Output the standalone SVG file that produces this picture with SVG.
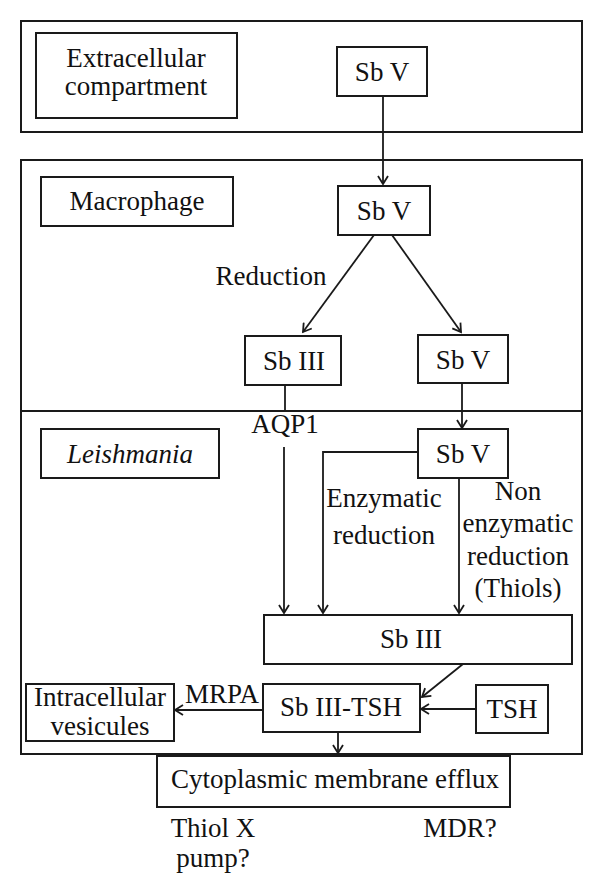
<svg xmlns="http://www.w3.org/2000/svg" width="600" height="893" viewBox="0 0 600 893">
<style>
  rect { fill: #fff; stroke: #1a1a1a; stroke-width: 2; }
  text { font-family: 'Liberation Serif', serif; font-size: 27px; fill: #111; text-anchor: middle; }
  .c { fill: none; stroke: #1a1a1a; stroke-width: 1.8; }
</style>
<defs>
  <marker id="arr" markerWidth="12" markerHeight="12" refX="10" refY="6" orient="auto" markerUnits="userSpaceOnUse">
    <path d="M2,1 L10,6 L2,11" fill="none" stroke="#1a1a1a" stroke-width="1.8"/>
  </marker>
</defs>
<g id="extracellular-region">
  <rect x="21" y="21" width="561" height="111"/>
</g>
<g id="macrophage-region">
  <rect x="21" y="160" width="561" height="251"/>
</g>
<g id="leishmania-region">
  <rect x="21" y="411" width="561" height="343"/>
</g>

<g id="extracellular-label">
  <rect x="36" y="33" width="201" height="85"/>
  <text x="136" y="67">Extracellular</text>
  <text x="136" y="95">compartment</text>
</g>
<g id="sbv-extra">
  <rect x="337" y="47" width="90" height="49"/>
  <text x="382" y="81">Sb V</text>
</g>
<g id="macrophage-label">
  <rect x="41" y="177" width="192" height="49"/>
  <text x="137" y="210">Macrophage</text>
</g>
<g id="sbv-macro">
  <rect x="338" y="186" width="92" height="49"/>
  <text x="384" y="220">Sb V</text>
</g>
<g id="sbiii-macro">
  <rect x="245" y="336" width="96" height="49"/>
  <text x="294" y="370">Sb III</text>
</g>
<g id="sbv-macro2">
  <rect x="418" y="335" width="90" height="48"/>
  <text x="463" y="369">Sb V</text>
</g>
<g id="leishmania-label">
  <rect x="41" y="429" width="178" height="49"/>
  <text x="130" y="463" font-style="italic">Leishmania</text>
</g>
<g id="sbv-leish">
  <rect x="418" y="429" width="90" height="49"/>
  <text x="463" y="463">Sb V</text>
</g>
<g id="sbiii-leish">
  <rect x="264" y="615" width="308" height="49"/>
  <text x="411" y="648">Sb III</text>
</g>
<g id="sbiii-tsh">
  <rect x="263" y="684" width="157" height="48"/>
  <text x="341" y="716">Sb III-TSH</text>
</g>
<g id="tsh">
  <rect x="476" y="685" width="72" height="48"/>
  <text x="512" y="718">TSH</text>
</g>
<g id="intracellular-vesicules">
  <rect x="26" y="684" width="148" height="57"/>
  <text x="100" y="706">Intracellular</text>
  <text x="100" y="735">vesicules</text>
</g>
<g id="efflux">
  <rect x="157" y="756" width="353" height="51"/>
  <text x="335" y="788">Cytoplasmic membrane efflux</text>
</g>

<g id="connectors">
  <line class="c" x1="383" y1="96" x2="383" y2="184" marker-end="url(#arr)"/>
  <line class="c" x1="374" y1="235" x2="303" y2="332" marker-end="url(#arr)"/>
  <line class="c" x1="392" y1="235" x2="461" y2="332" marker-end="url(#arr)"/>
  <line class="c" x1="285" y1="385" x2="285" y2="411"/>
  <line class="c" x1="462" y1="383" x2="462" y2="428" marker-end="url(#arr)"/>
  <line class="c" x1="284" y1="447" x2="284" y2="613" marker-end="url(#arr)"/>
  <polyline class="c" points="418,452 323,452 323,613" marker-end="url(#arr)"/>
  <line class="c" x1="459" y1="478" x2="459" y2="613" marker-end="url(#arr)"/>
  <line class="c" x1="463" y1="664" x2="422" y2="697" marker-end="url(#arr)"/>
  <line class="c" x1="476" y1="709" x2="421" y2="709" marker-end="url(#arr)"/>
  <line class="c" x1="263" y1="710" x2="175" y2="710" marker-end="url(#arr)"/>
  <line class="c" x1="338" y1="732" x2="338" y2="753" marker-end="url(#arr)"/>
</g>

<g id="labels">
  <text x="271" y="285">Reduction</text>
  <text x="285" y="433">AQP1</text>
  <text x="384" y="507">Enzymatic</text>
  <text x="384" y="544">reduction</text>
  <text x="518" y="500">Non</text>
  <text x="518" y="532">enzymatic</text>
  <text x="518" y="565">reduction</text>
  <text x="518" y="597">(Thiols)</text>
  <text x="222" y="703">MRPA</text>
  <text x="213" y="837">Thiol X</text>
  <text x="213" y="867">pump?</text>
  <text x="460" y="837">MDR?</text>
</g>
</svg>
